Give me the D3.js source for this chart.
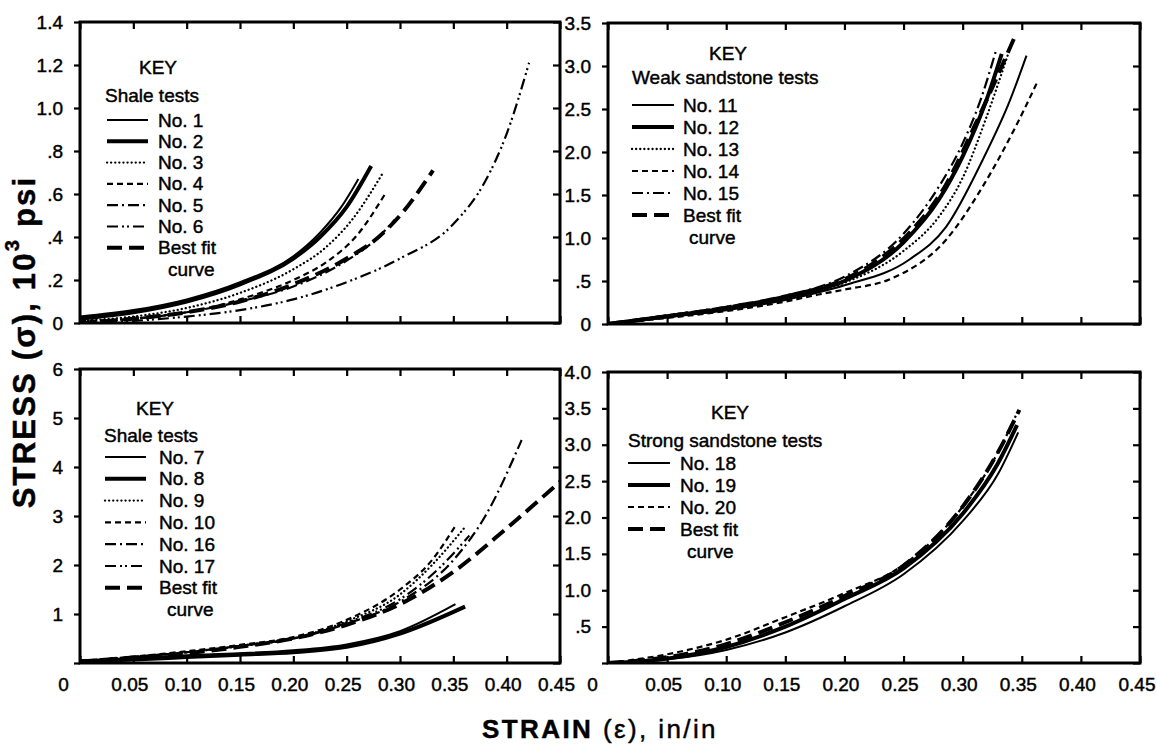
<!DOCTYPE html>
<html>
<head>
<meta charset="utf-8">
<script src="https://cdn.jsdelivr.net/npm/d3@7"></script>
<style>
  body { margin: 0; background: #fff; }
  text { font-family: "Liberation Sans", Arial, sans-serif; fill: #000; stroke: #000; stroke-width: 0.45px; }
</style>
</head>
<body>
<svg id="chart" width="1156" height="746"></svg>
<script>
// ---- data (strain in/in, stress 10^3 psi) ----
const strainTicks = [0, 0.05, 0.10, 0.15, 0.20, 0.25, 0.30, 0.35, 0.40, 0.45];
const stressTicksTL = [0, 0.2, 0.4, 0.6, 0.8, 1.0, 1.2, 1.4];
const stressTicksTR = [0, 0.5, 1.0, 1.5, 2.0, 2.5, 3.0, 3.5];
const stressTicksBL = [0, 1, 2, 3, 4, 5, 6];
const stressTicksBR = [0, 0.5, 1.0, 1.5, 2.0, 2.5, 3.0, 3.5, 4.0];

// shale tests, top left
const test1 = [[0,0.03],[0.05,0.06],[0.10,0.11],[0.15,0.19],[0.20,0.31],[0.225,0.42],[0.245,0.54],[0.261,0.67]];
const test2 = [[0,0.02],[0.05,0.05],[0.10,0.10],[0.15,0.18],[0.20,0.30],[0.225,0.40],[0.25,0.54],[0.273,0.73]];
const test3 = [[0,0.01],[0.05,0.03],[0.10,0.07],[0.15,0.14],[0.20,0.25],[0.23,0.35],[0.255,0.48],[0.283,0.69]];
const test4 = [[0,0.01],[0.05,0.02],[0.10,0.05],[0.15,0.11],[0.20,0.20],[0.23,0.28],[0.26,0.41],[0.286,0.60]];
const test5 = [[0,0],[0.05,0.02],[0.10,0.05],[0.15,0.10],[0.20,0.17],[0.25,0.29],[0.28,0.40],[0.295,0.48]];
const test6 = [[0,0],[0.05,0.01],[0.10,0.03],[0.15,0.06],[0.20,0.11],[0.25,0.19],[0.30,0.30],[0.35,0.46],[0.38,0.66],[0.40,0.88],[0.421,1.21]];
const fitShaleA = [[0,0],[0.05,0.02],[0.10,0.05],[0.15,0.10],[0.20,0.18],[0.25,0.30],[0.28,0.40],[0.30,0.50],[0.331,0.71]];

// weak sandstone tests, top right
const test11 = [[0,0],[0.05,0.08],[0.10,0.16],[0.15,0.28],[0.20,0.45],[0.255,0.75],[0.286,1.13],[0.317,1.91],[0.34,2.6],[0.354,3.12]];
const test12 = [[0,0],[0.05,0.09],[0.10,0.18],[0.15,0.31],[0.20,0.50],[0.25,0.95],[0.28,1.45],[0.30,1.95],[0.32,2.6],[0.333,3.14]];
const test13 = [[0,0],[0.05,0.08],[0.10,0.17],[0.15,0.30],[0.20,0.48],[0.25,0.85],[0.28,1.25],[0.30,1.7],[0.32,2.4],[0.338,3.12]];
const test14 = [[0,0],[0.05,0.07],[0.10,0.15],[0.15,0.26],[0.177,0.34],[0.20,0.40],[0.24,0.53],[0.286,0.98],[0.317,1.6],[0.345,2.3],[0.363,2.81]];
const test15 = [[0,0],[0.05,0.10],[0.10,0.20],[0.15,0.33],[0.20,0.55],[0.25,1.05],[0.28,1.6],[0.30,2.1],[0.315,2.6],[0.328,3.17]];
const fitWeak = [[0,0],[0.05,0.09],[0.10,0.19],[0.15,0.32],[0.20,0.52],[0.225,0.71],[0.255,1.06],[0.285,1.6],[0.31,2.3],[0.33,2.9],[0.345,3.37]];

// shale tests, bottom left
const test7 = [[0,0.05],[0.05,0.10],[0.10,0.16],[0.15,0.20],[0.20,0.26],[0.25,0.38],[0.30,0.65],[0.352,1.2]];
const test8 = [[0,0.03],[0.05,0.07],[0.10,0.12],[0.15,0.17],[0.20,0.22],[0.25,0.33],[0.30,0.60],[0.361,1.15]];
const test9 = [[0,0.04],[0.05,0.12],[0.10,0.22],[0.15,0.34],[0.20,0.50],[0.25,0.85],[0.30,1.4],[0.33,2.0],[0.36,2.75]];
const test10 = [[0,0.04],[0.05,0.13],[0.10,0.24],[0.15,0.37],[0.20,0.53],[0.25,0.88],[0.30,1.5],[0.33,2.1],[0.352,2.8]];
const test16 = [[0,0.04],[0.05,0.12],[0.10,0.22],[0.15,0.35],[0.20,0.50],[0.25,0.80],[0.30,1.25],[0.35,2.1],[0.38,3.0],[0.414,4.55]];
const test17 = [[0,0.04],[0.05,0.12],[0.10,0.22],[0.15,0.35],[0.20,0.50],[0.25,0.82],[0.30,1.3],[0.335,1.9],[0.365,2.6]];
const fitShaleB = [[0,0.03],[0.05,0.11],[0.10,0.20],[0.15,0.33],[0.20,0.50],[0.25,0.78],[0.30,1.2],[0.35,1.86],[0.40,2.75],[0.45,3.7]];

// strong sandstone tests, bottom right
const test18 = [[0,0],[0.05,0.05],[0.10,0.18],[0.15,0.42],[0.20,0.78],[0.25,1.22],[0.30,1.95],[0.33,2.6],[0.347,3.17]];
const test19 = [[0,0],[0.05,0.06],[0.10,0.22],[0.15,0.50],[0.20,0.88],[0.25,1.30],[0.30,2.05],[0.33,2.75],[0.346,3.27]];
const test20 = [[0,0],[0.05,0.12],[0.10,0.32],[0.15,0.63],[0.20,0.96],[0.25,1.35],[0.30,2.15],[0.33,2.9],[0.345,3.4]];
const fitStrong = [[0,0],[0.05,0.08],[0.10,0.26],[0.15,0.56],[0.20,0.92],[0.25,1.34],[0.30,2.15],[0.33,2.9],[0.348,3.48]];

// line styles
const styles = {
  thin:       {w: 2,   dash: null},
  thick:      {w: 4,   dash: null},
  dotted:     {w: 2.3, dash: "0.1,4", cap: "round"},
  dashed:     {w: 2.2, dash: "6,4"},
  dashdot:    {w: 2.2, dash: "11,4,2,4"},
  dashdotdot: {w: 2.2, dash: "11,4,2,3,2,4"},
  bestfit:    {w: 4,   dash: "15,7"}
};

const fracFmt = d => d === 0 ? "0" : d3.format(".1f")(d).replace(/^0/, "");

const panels = [
  {x0: 80, x1: 560, y0: 22, y1: 323, yMax: 1.4, yTicks: stressTicksTL, yFmt: fracFmt, xLabels: false,
   legend: {keyX: 158, keyY: 67, titleX: 105, titleY: 95, rowY: 120, step: 21.3, lx0: 107, lx1: 148, tx: 158, curveDx: 10, title: "Shale tests"},
   curves: [
     {name: "No. 1", data: test1, s: "thin"},
     {name: "No. 2", data: test2, s: "thick"},
     {name: "No. 3", data: test3, s: "dotted"},
     {name: "No. 4", data: test4, s: "dashed"},
     {name: "No. 5", data: test5, s: "dashdot"},
     {name: "No. 6", data: test6, s: "dashdotdot"},
     {name: "Best fit", data: fitShaleA, s: "bestfit"}]},
  {x0: 608, x1: 1140, y0: 23, y1: 324, yMax: 3.5, yTicks: stressTicksTR, yFmt: fracFmt, xLabels: false,
   legend: {keyX: 728, keyY: 53, titleX: 632, titleY: 77, rowY: 105, step: 22, lx0: 632, lx1: 674, tx: 683, curveDx: 6, title: "Weak sandstone tests"},
   curves: [
     {name: "No. 11", data: test11, s: "thin"},
     {name: "No. 12", data: test12, s: "thick"},
     {name: "No. 13", data: test13, s: "dotted"},
     {name: "No. 14", data: test14, s: "dashed"},
     {name: "No. 15", data: test15, s: "dashdot"},
     {name: "Best fit", data: fitWeak, s: "bestfit"}]},
  {x0: 80, x1: 560, y0: 369, y1: 663, yMax: 6, yTicks: stressTicksBL, yFmt: d => d === 0 ? "" : String(d), xLabels: true, zeroX: 63,
   legend: {keyX: 155, keyY: 408, titleX: 104, titleY: 435, rowY: 457, step: 21.8, lx0: 105, lx1: 146, tx: 159, curveDx: 8, title: "Shale tests"},
   curves: [
     {name: "No. 7", data: test7, s: "thin"},
     {name: "No. 8", data: test8, s: "thick"},
     {name: "No. 9", data: test9, s: "dotted"},
     {name: "No. 10", data: test10, s: "dashed"},
     {name: "No. 16", data: test16, s: "dashdot"},
     {name: "No. 17", data: test17, s: "dashdotdot"},
     {name: "Best fit", data: fitShaleB, s: "bestfit"}]},
  {x0: 608, x1: 1140, y0: 372, y1: 663, yMax: 4, yTicks: stressTicksBR, yFmt: d => d === 0 ? "" : fracFmt(d), xLabels: true, zeroX: 592,
   legend: {keyX: 730, keyY: 412, titleX: 628, titleY: 440, rowY: 463, step: 22, lx0: 628, lx1: 670, tx: 680, curveDx: 7, title: "Strong sandstone tests"},
   curves: [
     {name: "No. 18", data: test18, s: "thin"},
     {name: "No. 19", data: test19, s: "thick"},
     {name: "No. 20", data: test20, s: "dashed"},
     {name: "Best fit", data: fitStrong, s: "bestfit"}]}
];

const svg = d3.select("#chart");
svg.append("rect").attr("width", 1156).attr("height", 746).attr("fill", "#fff");

const styleLine = (sel, st) => sel
  .attr("fill", "none")
  .attr("stroke", "#000")
  .attr("stroke-width", st.w)
  .attr("stroke-dasharray", st.dash)
  .attr("stroke-linecap", st.cap || "butt");

panels.forEach((p, i) => {
  const x = d3.scaleLinear().domain([0, 0.45]).range([p.x0, p.x1]);
  const y = d3.scaleLinear().domain([0, p.yMax]).range([p.y1, p.y0]);
  const g = svg.append("g");

  // ticks: left outward, others inward
  const left = g.append("g").attr("transform", `translate(${p.x0},0)`)
    .call(d3.axisLeft(y).tickValues(p.yTicks).tickSize(6).tickPadding(11).tickFormat(p.yFmt));
  const right = g.append("g").attr("transform", `translate(${p.x1},0)`)
    .call(d3.axisRight(y).tickValues(p.yTicks).tickSize(-7).tickFormat(""));
  const top = g.append("g").attr("transform", `translate(0,${p.y0})`)
    .call(d3.axisTop(x).tickValues(strainTicks).tickSize(-7).tickFormat(""));
  const bottom = g.append("g").attr("transform", `translate(0,${p.y1})`)
    .call(d3.axisBottom(x).tickValues(strainTicks).tickSize(-7).tickPadding(15)
      .tickFormat(p.xLabels ? (d => d === 0 ? "0" : d3.format(".2f")(d)) : ""));
  [left, right, top, bottom].forEach(a => {
    a.select(".domain").remove();
    a.selectAll("line").attr("stroke", "#000").attr("stroke-width", 2.2);
    a.selectAll("text").attr("font-size", 19).attr("fill", "#000")
      .style("font-family", "'Liberation Sans', Arial, sans-serif");
  });
  if (p.xLabels) {
    const labels = bottom.selectAll(".tick text");
    labels.attr("dx", -4);
    labels.filter(d => d === 0).attr("dx", 0).attr("x", p.zeroX - p.x0);
    // keep the last label of the right panel inside the page
    if (p.x1 > 1100) {
      labels.filter(d => d === 0.45).attr("text-anchor", "end").attr("x", 1155 - p.x1).attr("dx", 0);
    }
  }

  // curves, clipped to the frame
  const clipId = "clip" + i;
  svg.append("clipPath").attr("id", clipId).append("rect")
    .attr("x", p.x0).attr("y", p.y0).attr("width", p.x1 - p.x0).attr("height", p.y1 - p.y0);
  const line = d3.line().x(d => x(d[0])).y(d => y(d[1])).curve(d3.curveMonotoneX);
  const cg = g.append("g").attr("clip-path", `url(#${clipId})`);
  p.curves.forEach(c => {
    cg.append("path").attr("d", line(c.data)).call(styleLine, styles[c.s]);
  });

  // frame
  g.append("rect").attr("x", p.x0).attr("y", p.y0)
    .attr("width", p.x1 - p.x0).attr("height", p.y1 - p.y0)
    .attr("fill", "none").attr("stroke", "#000").attr("stroke-width", 3);

  // key
  const L = p.legend;
  const kg = g.append("g").attr("font-size", 19);
  kg.append("text").attr("x", L.keyX).attr("y", L.keyY).attr("text-anchor", "middle")
    .attr("dominant-baseline", "central").text("KEY");
  kg.append("text").attr("x", L.titleX).attr("y", L.titleY)
    .attr("dominant-baseline", "central").text(L.title);
  p.curves.forEach((c, j) => {
    const yy = L.rowY + j * L.step;
    kg.append("line").attr("x1", L.lx0).attr("x2", L.lx1).attr("y1", yy).attr("y2", yy)
      .call(styleLine, styles[c.s]);
    kg.append("text").attr("x", L.tx).attr("y", yy).attr("dominant-baseline", "central").text(c.name);
  });
  const last = L.rowY + p.curves.length * L.step;
  kg.append("text").attr("x", L.tx + L.curveDx).attr("y", last)
    .attr("dominant-baseline", "central").text("curve");
});

// axis titles
const yt = svg.append("text")
  .attr("transform", "translate(24,342) rotate(-90)")
  .attr("text-anchor", "middle").attr("dominant-baseline", "central")
  .attr("font-size", 31).attr("font-weight", "bold").attr("letter-spacing", 2.2);
yt.append("tspan").text("STRESS (σ), 10");
yt.append("tspan").attr("font-size", 20).attr("dy", -12).text("3");
yt.append("tspan").attr("dy", 12).text(" psi");

const xt = svg.append("text")
  .attr("x", 600).attr("y", 729)
  .attr("text-anchor", "middle").attr("dominant-baseline", "central")
  .attr("font-size", 26).attr("letter-spacing", 2.4);
xt.append("tspan").attr("font-weight", "bold").text("STRAIN ");
xt.append("tspan").text("(ε), in/in");
</script>
</body>
</html>
